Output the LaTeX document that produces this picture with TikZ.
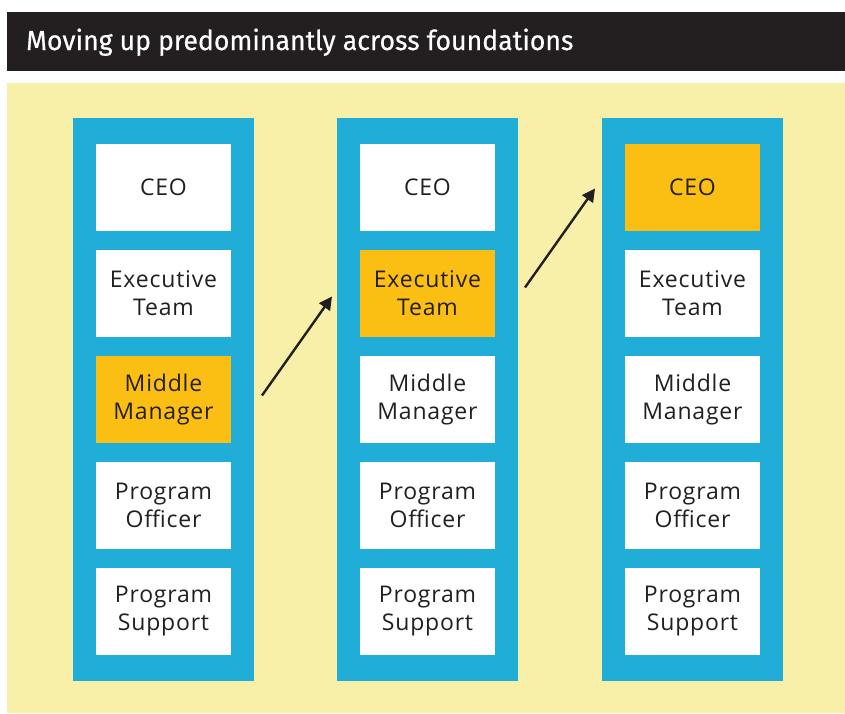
\documentclass[tikz,border=0pt]{standalone}
\usepackage{fontspec}
\usepackage{tikz}
\usetikzlibrary{fit,positioning,arrows.meta,backgrounds}
\newfontfamily\boxfont[LetterSpace=3.5]{Open Sans}
\newfontfamily\titlefont[FakeStretch=0.97,FakeBold=0.5]{Fira Sans}
\definecolor{barBlack}{HTML}{231F20}
\definecolor{paleYellow}{HTML}{F8F0A8}
\definecolor{ladderBlue}{HTML}{20AED9}
\definecolor{stepGold}{HTML}{FBBF14}

\begin{document}
\begin{tikzpicture}[x=1pt, y=1pt,
    rung/.style={fill=white, minimum width=135pt, minimum height=87pt, inner sep=0pt, outer sep=0pt,
      align=center, text=barBlack, font=\boxfont\fontsize{23}{28}\selectfont},
    onRung/.style={rung, fill=stepGold},
    ladder/.style={fill=ladderBlue, inner xsep=23pt, inner ysep=26pt, outer sep=0pt},
    climb/.style={draw=barBlack, line width=2.4pt, -{Triangle[length=13pt, width=13pt]}}]
      \useasboundingbox (0,0) rectangle (845,-713);

      % Title bar
      \fill[barBlack] (7,-12) rectangle (845,-71);
      \node[anchor=base west, text=white, inner sep=0pt, font=\titlefont\fontsize{27.5}{30}\selectfont] (title) at (26,-50) {Moving up predominantly across foundations};

      % First ladder
      \node[rung] (ceoOne) at (163.5,-187.5) {CEO};
      \node[rung, below=19pt of ceoOne] (execOne) {Executive\\Team};
      \node[onRung, below=19pt of execOne] (midOne) {Middle\\Manager};
      \node[rung, below=19pt of midOne] (officerOne) {Program\\Officer};
      \node[rung, below=19pt of officerOne] (supportOne) {Program\\Support};

      % Second ladder
      \node[rung] (ceoTwo) at (427.5,-187.5) {CEO};
      \node[onRung, below=19pt of ceoTwo] (execTwo) {Executive\\Team};
      \node[rung, below=19pt of execTwo] (midTwo) {Middle\\Manager};
      \node[rung, below=19pt of midTwo] (officerTwo) {Program\\Officer};
      \node[rung, below=19pt of officerTwo] (supportTwo) {Program\\Support};

      % Third ladder
      \node[onRung] (ceoThree) at (692.5,-187.5) {CEO};
      \node[rung, below=19pt of ceoThree] (execThree) {Executive\\Team};
      \node[rung, below=19pt of execThree] (midThree) {Middle\\Manager};
      \node[rung, below=19pt of midThree] (officerThree) {Program\\Officer};
      \node[rung, below=19pt of officerThree] (supportThree) {Program\\Support};

      % Background and blue frames
      \begin{scope}[on background layer]
        \fill[paleYellow] (7,-83) rectangle (845,-713);
        \node[ladder, fit=(ceoOne)(supportOne)] (colOne) {};
        \node[ladder, fit=(ceoTwo)(supportTwo)] (colTwo) {};
        \node[ladder, fit=(ceoThree)(supportThree)] (colThree) {};
      \end{scope}

      % Arrows
      \coordinate (tailOne) at ([shift={(8pt,4pt)}]colOne.east |- midOne.center);
      \coordinate (tipOne) at ([shift={(-5pt,-3pt)}]colTwo.west |- execTwo.center);
      \coordinate (tailTwo) at ([shift={(7pt,6pt)}]colTwo.east |- execTwo.center);
      \coordinate (tipTwo) at ([shift={(-7pt,-1pt)}]colThree.west |- ceoThree.center);
      \draw[climb] (tailOne) -- (tipOne);
      \draw[climb] (tailTwo) -- (tipTwo);

    \end{tikzpicture}
\end{document}
